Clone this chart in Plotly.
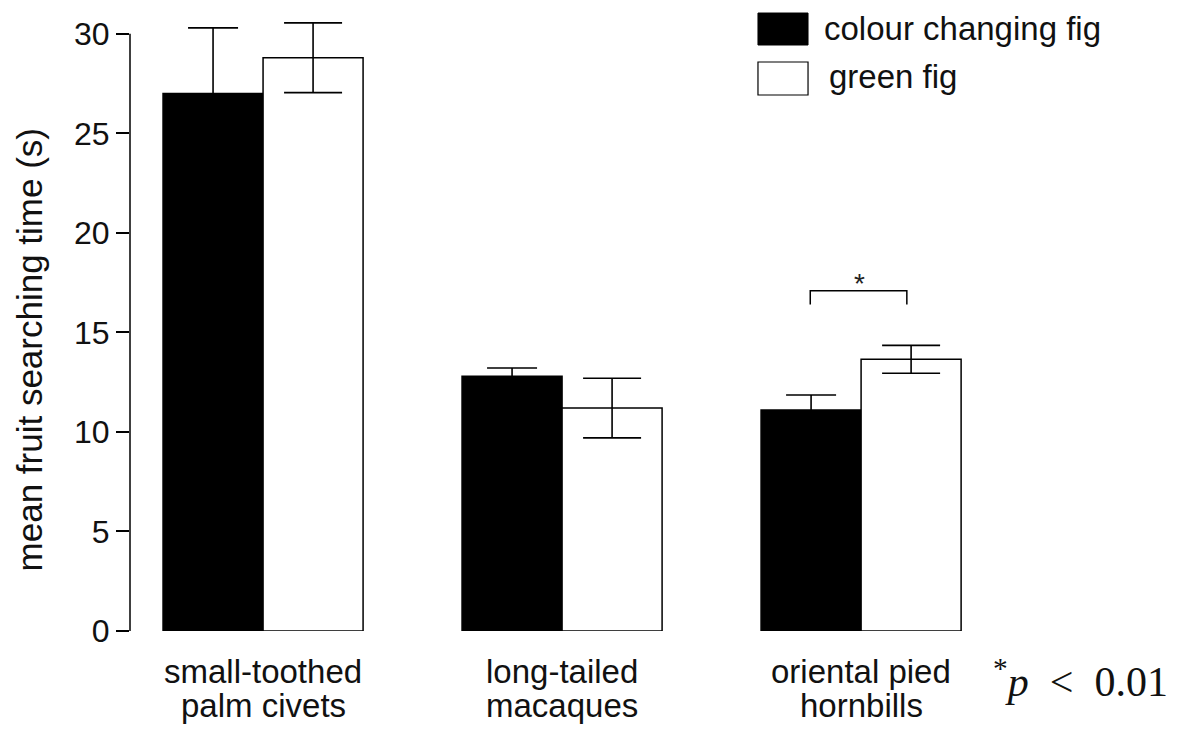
import plotly.graph_objects as go

# Animal groups and their labels
groups = [0, 1, 2]
group_labels = [["small-toothed", "palm civets"],
                ["long-tailed", "macaques"],
                ["oriental pied", "hornbills"]]

# Mean fruit searching time (s) and error (s)
colour_changing = [27.0, 12.8, 11.1]
colour_changing_err = [3.3, 0.41, 0.76]
green = [28.8, 11.2, 13.65]
green_err = [1.75, 1.5, 0.7]

y_ticks = [0, 5, 10, 15, 20, 25, 30]

SANS = "Liberation Sans, Arial, Helvetica, sans-serif"
SERIF = "Liberation Serif, Times New Roman, serif"

fig = go.Figure()
fig.add_trace(go.Bar(
    x=groups, y=colour_changing, name="colour changing fig",
    marker=dict(color="black", line=dict(color="black", width=1.5)),
    error_y=dict(type="data", array=colour_changing_err, color="black",
                 thickness=1.6, width=25),
))
fig.add_trace(go.Bar(
    x=groups, y=green, name="green fig",
    marker=dict(color="white", line=dict(color="black", width=1.5)),
    error_y=dict(type="data", array=green_err, color="black",
                 thickness=1.6, width=29),
))

# y-axis spine from 0 to 30
fig.add_shape(type="line", xref="paper", yref="y", x0=0, x1=0, y0=0, y1=30,
              line=dict(color="black", width=1.5))

# significance bracket over the hornbill pair
fig.add_shape(type="path", xref="x", yref="y",
              path="M 1.83,16.4 L 1.83,17.1 L 2.153,17.1 L 2.153,16.4",
              line=dict(color="black", width=1.5))
fig.add_annotation(x=1.995, y=17.45, xref="x", yref="y", text="*",
                   showarrow=False, yanchor="middle",
                   font=dict(family=SANS, size=28, color="#222"))

# two-line group labels under the bars
for gx, lines in zip(groups, group_labels):
    for i, line in enumerate(lines):
        fig.add_annotation(x=gx, y=-0.0638 - 0.0555 * i, xref="x", yref="paper",
                           text=line, showarrow=False,
                           xanchor="center", yanchor="middle",
                           font=dict(family=SANS, size=33, color="#111"))

# legend drawn as boxes with labels
fig.add_shape(type="rect", xref="paper", yref="paper",
              x0=0.6474, x1=0.6990, y0=0.9346, y1=0.9856,
              fillcolor="black", line=dict(color="black", width=1))
fig.add_shape(type="rect", xref="paper", yref="paper",
              x0=0.6474, x1=0.6990, y0=0.8549, y1=0.9075,
              fillcolor="white", line=dict(color="black", width=1.2))
fig.add_annotation(x=0.7134, y=0.9617, xref="paper", yref="paper",
                   text="colour changing fig", showarrow=False,
                   xanchor="left", yanchor="middle",
                   font=dict(family=SANS, size=33, color="#111"))
fig.add_annotation(x=0.7186, y=0.884, xref="paper", yref="paper",
                   text="green fig", showarrow=False,
                   xanchor="left", yanchor="middle",
                   font=dict(family=SANS, size=33, color="#111"))

# axis title
fig.add_annotation(x=-0.104, y=14.1, xref="paper", yref="y",
                   text="mean fruit searching time (s)", textangle=-90,
                   showarrow=False, xanchor="center", yanchor="middle",
                   font=dict(family=SANS, size=35, color="#111"))

# significance note
fig.add_annotation(x=0.888, y=-0.075, xref="paper", yref="paper",
                   text="<sup>*</sup><i>p</i>&nbsp;&nbsp;&lt;&nbsp;&nbsp;0.01", showarrow=False,
                   xanchor="left", yanchor="middle",
                   font=dict(family=SERIF, size=42, color="#111"))

fig.update_layout(
    width=1179, height=731,
    margin=dict(l=130, r=79, t=4, b=100),
    paper_bgcolor="white", plot_bgcolor="white",
    barmode="group", bargap=0.331, bargroupgap=0,
    showlegend=False,
    xaxis=dict(range=[-0.445, 2.799], tickvals=groups, showticklabels=False,
               showline=False, showgrid=False, zeroline=False, ticks=""),
    yaxis=dict(range=[0, 31.5], tickvals=y_ticks, showline=False,
               showgrid=False, zeroline=False, ticks="outside", ticklen=13,
               tickwidth=1.5, tickcolor="black",
               tickfont=dict(family=SANS, size=32, color="#111")),
)

fig.write_html("out.html")
